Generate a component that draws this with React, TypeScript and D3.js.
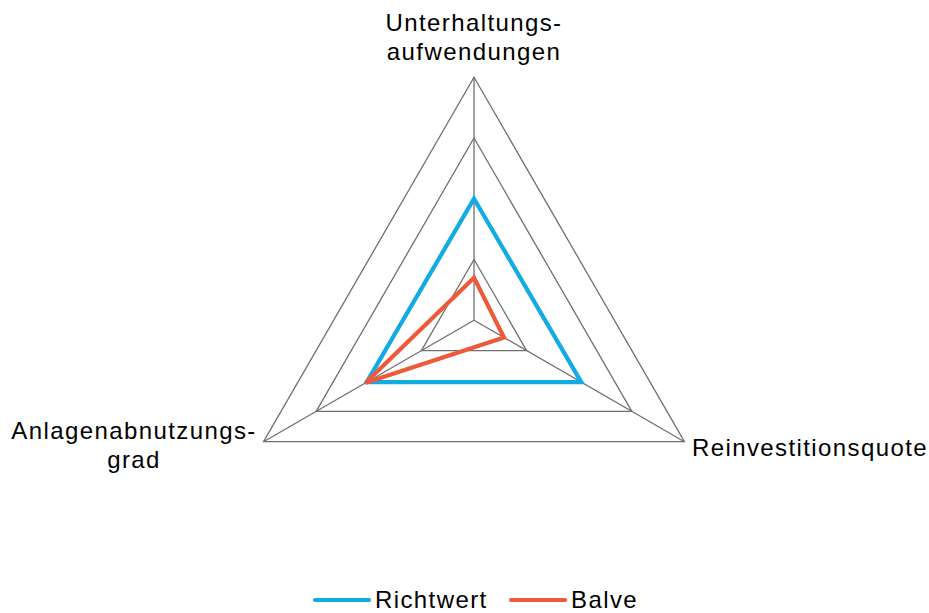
import React from "react";
import * as d3 from "d3";

const axes = ["Unterhaltungsaufwendungen", "Reinvestitionsquote", "Anlagenabnutzungsgrad"];
const gridLevels = [1, 2, 3, 4];
const richtwert = [2.0, 2.04, 2.04];
const balve = [0.7, 0.57, 2.06];
const seriesNames = ["Richtwert", "Balve"];
const seriesColors = ["#12ABE3", "#EC5A3A"];

const W = 929;
const H = 613;
const cx = 474;
const cy = 320.2;
const R = 243;

export default function App() {
  const r = d3.scaleLinear().domain([0, 4]).range([0, R]);
  const angle = d3.scaleLinear().domain([0, axes.length]).range([0, 2 * Math.PI]);
  const radial = d3
    .lineRadial<number>()
    .angle((_, i) => angle(i))
    .radius((v) => r(v))
    .curve(d3.curveLinearClosed);
  const pt = (i: number, v: number) => {
    const a = angle(i) - Math.PI / 2;
    return [r(v) * Math.cos(a), r(v) * Math.sin(a)];
  };
  const font = "'Liberation Sans', Arial, sans-serif";
  const textStyle: React.CSSProperties = { letterSpacing: "1.4px" };
  const series = [richtwert, balve];
  return (
    <svg width={W} height={H} style={{ position: "absolute", left: 0, top: 0, background: "#fff" }}>
      <g transform={`translate(${cx},${cy})`}>
        {gridLevels.map((l) => (
          <path key={l} d={radial(axes.map(() => l)) || ""} fill="none" stroke="#707070" strokeWidth={1.3} />
        ))}
        {axes.map((_, i) => {
          const [x, y] = pt(i, 4);
          return <line key={i} x1={0} y1={0} x2={x} y2={y} stroke="#707070" strokeWidth={1.3} />;
        })}
        {series.map((s, k) => (
          <path key={k} d={radial(s) || ""} fill="none" stroke={seriesColors[k]} strokeWidth={4.2} strokeLinejoin="miter" />
        ))}
      </g>
      <g fontFamily={font} fontSize={24} fill="#000" style={textStyle}>
        <text x={474} y={31} textAnchor="middle">Unterhaltungs-</text>
        <text x={474} y={60} textAnchor="middle">aufwendungen</text>
        <text x={692} y={456} textAnchor="start">Reinvestitionsquote</text>
        <text x={134} y={439} textAnchor="middle">Anlagenabnutzungs-</text>
        <text x={134} y={468} textAnchor="middle">grad</text>
      </g>
      <g fontFamily={font} fontSize={24} style={textStyle}>
        {seriesNames.map((n, k) => {
          const x0 = k === 0 ? 315 : 511;
          return (
            <g key={n}>
              <line x1={x0} x2={x0 + 54} y1={600} y2={600} stroke={seriesColors[k]} strokeWidth={4.2} strokeLinecap="round" />
              <text x={x0 + 60} y={608} fill="#000">{n}</text>
            </g>
          );
        })}
      </g>
    </svg>
  );
}
